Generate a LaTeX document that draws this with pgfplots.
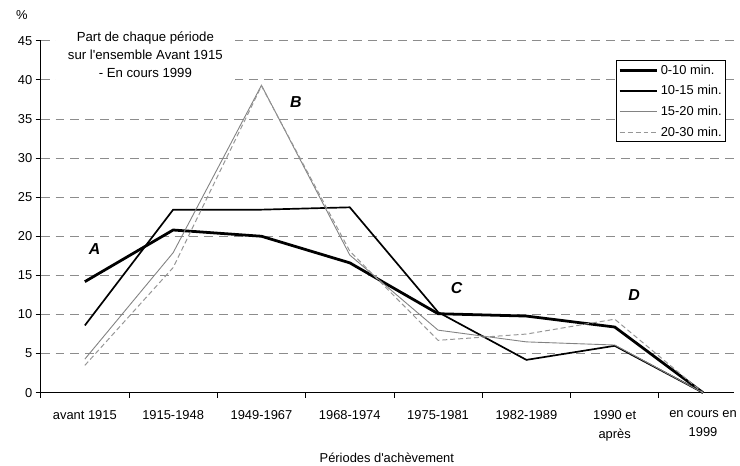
\documentclass[border=0pt]{standalone}
\usepackage{pgfplots}
\pgfplotsset{compat=1.18}
\usepackage{fontspec}
\setmainfont{Liberation Sans}

\definecolor{lgray}{RGB}{130,130,130}
\definecolor{dgray}{RGB}{150,150,150}
\definecolor{gridgray}{RGB}{140,140,140}

\begin{document}
\begin{tikzpicture}
\begin{axis}[
  scale only axis, width=699pt, height=355pt,
  xmin=-0.5, xmax=7.35, ymin=0, ymax=45,
  axis x line*=bottom, axis y line*=left,
  axis line style={black, line width=0.8pt},
  ytick={0,5,...,45},
  xtick={-0.5,0.5,...,6.5},
  xticklabels={avant 1915,1915-1948,1949-1967,1968-1974,1975-1981,1982-1989,{1990 et\\après},{en cours en\\1999}},
  xticklabel style={xshift=44.5pt, yshift=-9pt, align=center, anchor=north, font=\fontsize{13}{20}\selectfont},
  yticklabel style={font=\fontsize{13}{15}\selectfont},
  /pgf/number format/assume math mode=true,
  tick align=outside, major tick length=5pt,
  tick style={black, line width=0.8pt},
  ymajorgrids, grid style={gridgray, line width=0.8pt, dash pattern=on 9pt off 6pt},
  clip=false,
  xlabel={Périodes d\textquotesingle achèvement},
  xlabel style={at={(axis description cs:0.4993,-0.185)}, anchor=center, font=\fontsize{13}{15}\selectfont},
  legend style={at={(axis description cs:0.9886,0.9437)}, anchor=north east, draw=black, line width=0.8pt,
    font=\fontsize{13}{15}\selectfont, row sep=6pt, inner sep=2pt},
  legend cell align=left,
  legend image code/.code={\draw[#1] (0pt,0pt) -- (38pt,0pt);},
]
\addplot[black, line width=2.8pt] coordinates {(0,14.2)(1,20.8)(2,20.0)(3,16.6)(4,10.1)(5,9.8)(6,8.4)(7,0)};
\addlegendentry{0-10 min.}
\addplot[black, line width=1.7pt] coordinates {(0,8.6)(1,23.4)(2,23.4)(3,23.7)(4,10.3)(5,4.2)(6,6.0)(7,0)};
\addlegendentry{10-15 min.}
\addplot[lgray, line width=0.9pt] coordinates {(0,4.3)(1,17.9)(2,39.3)(3,17.6)(4,8.0)(5,6.5)(6,6.1)(7,0)};
\addlegendentry{15-20 min.}
\addplot[dgray, line width=1pt, dash pattern=on 5pt off 3pt] coordinates {(0,3.5)(1,16.0)(2,39.2)(3,18.1)(4,6.7)(5,7.5)(6,9.4)(7,0)};
\addlegendentry{20-30 min.}

\node[fill=white, align=center, minimum width=181pt, inner ysep=3pt, font=\fontsize{13.3}{18.5}\selectfont]
  at (axis cs:0.685,43.2) {Part de chaque période\\sur l\textquotesingle ensemble Avant 1915\\- En cours 1999};
\node[font=\fontsize{13}{15}\selectfont] at (axis description cs:-0.027,1.073) {\%};
\node[font=\bfseries\itshape\fontsize{16}{18}\selectfont] at (axis cs:0.11,18.4) {A};
\node[font=\bfseries\itshape\fontsize{16}{18}\selectfont] at (axis cs:2.39,37.1) {B};
\node[font=\bfseries\itshape\fontsize{16}{18}\selectfont] at (axis cs:4.21,13.4) {C};
\node[font=\bfseries\itshape\fontsize{16}{18}\selectfont] at (axis cs:6.22,12.5) {D};
\path (axis description cs:-0.0587,-0.2056) (axis description cs:1.0,1.1155);
\end{axis}
\end{tikzpicture}
\end{document}
